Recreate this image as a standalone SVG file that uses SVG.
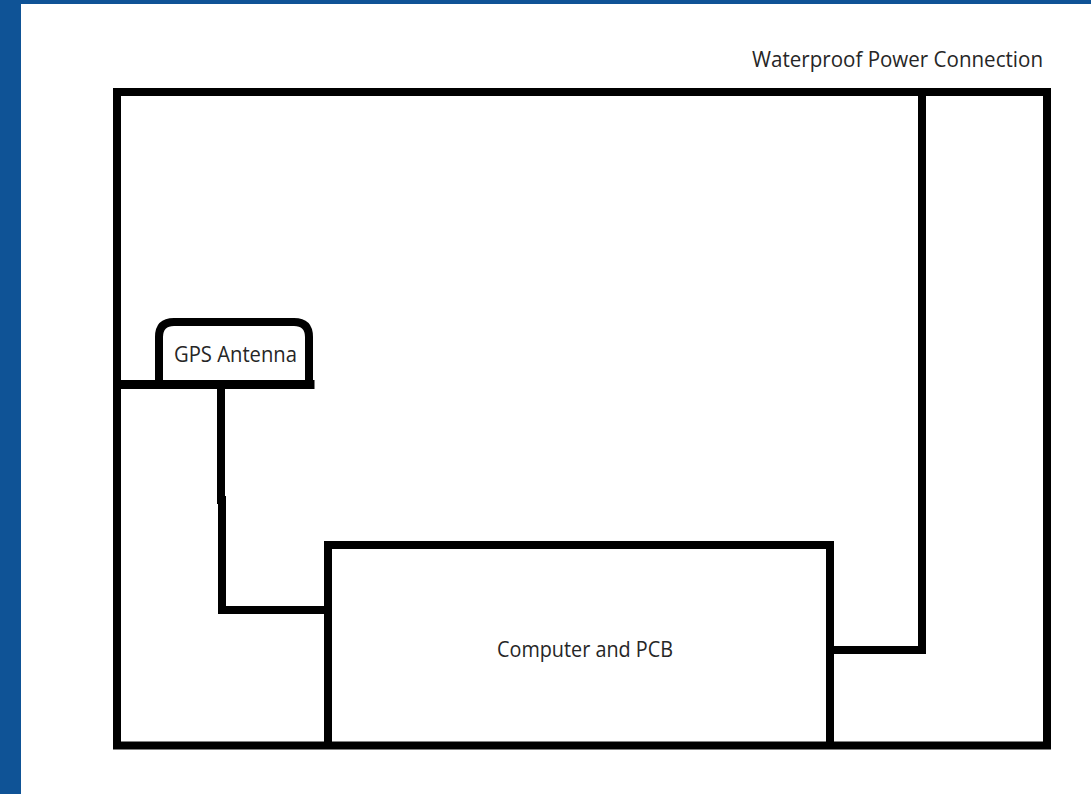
<svg xmlns="http://www.w3.org/2000/svg" width="1091" height="794" viewBox="0 0 1091 794">
<style>
.ln{fill:none;stroke:#000;stroke-width:8;stroke-linecap:square;stroke-linejoin:miter}
.t{font-family:"Open Sans","Liberation Sans",sans-serif;font-size:21px;fill:#262626}
</style>
<rect x="0" y="0" width="1091" height="794" fill="#ffffff"/>
<rect x="0" y="0" width="1091" height="4" fill="#0f5396"/>
<rect x="0" y="0" width="21" height="794" fill="#0f5396"/>
<g id="enclosure">
<rect class="ln" x="117" y="92" width="930" height="653.5"/>
</g>
<g id="power-label">
<text class="t" x="752" y="67" textLength="291" lengthAdjust="spacingAndGlyphs">Waterproof Power Connection</text>
</g>
<g id="gps-antenna">
<path class="ln" d="M159 384 V337 Q159 322 174 322 H294 Q309 322 309 337 V384"/>
<text class="t" x="174" y="362" textLength="123" lengthAdjust="spacingAndGlyphs">GPS Antenna</text>
</g>
<g id="computer-pcb">
<path class="ln" d="M328 745 V545 H830 V745"/>
<text class="t" x="497" y="657" textLength="176" lengthAdjust="spacingAndGlyphs">Computer and PCB</text>
</g>
<g id="connectors">
<path class="ln" d="M119 384.5 H310" style="stroke-width:9"/>
<path class="ln" d="M221 388 V500 M222 500 V610 H328"/>
<path class="ln" d="M922 96 V650 H834"/>
</g>
</svg>
